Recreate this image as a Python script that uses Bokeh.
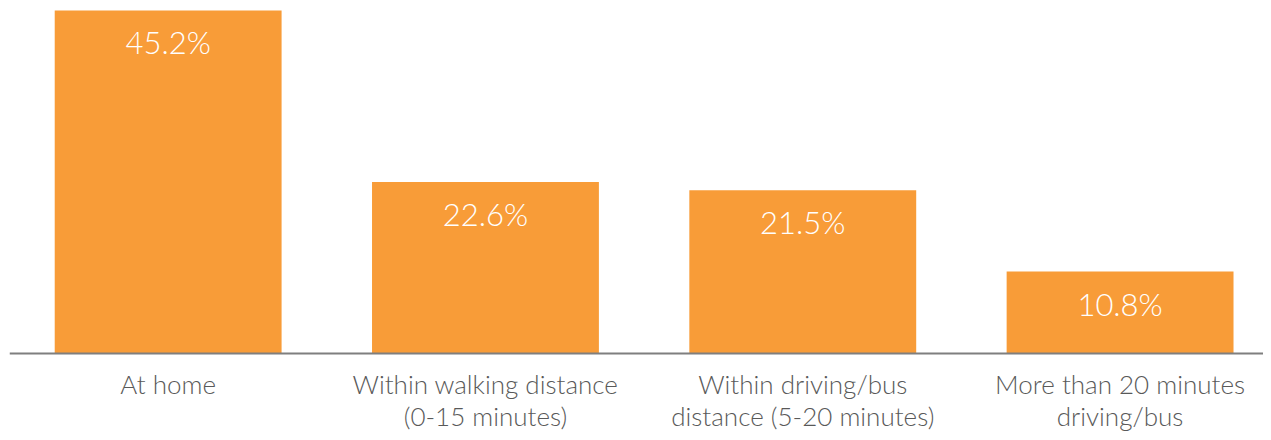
from bokeh.plotting import figure
from bokeh.models import ColumnDataSource, Range1d, Span
from bokeh.core.properties import value
from bokeh.embed import file_html
from bokeh.resources import INLINE

categories = ["At home", "Within walking distance\n(0-15 minutes)",
              "Within driving/bus\ndistance (5-20 minutes)", "More than 20 minutes\ndriving/bus"]
values = [45.2, 22.6, 21.5, 10.8]
labels = ["45.2%", "22.6%", "21.5%", "10.8%"]

xs = [i + 0.5 for i in range(len(categories))]
src = ColumnDataSource(dict(x=xs, top=values, lab=labels, cat=categories, zero=[0] * len(xs)))

p = figure(width=1263, height=432, output_backend="svg", toolbar_location=None,
           x_range=Range1d(0.0, 3.952), y_range=Range1d(-10.41, 46.51),
           min_border=0, min_border_left=9, min_border_right=0, min_border_top=0, min_border_bottom=0)
p.xaxis.visible = False
p.yaxis.visible = False
p.xgrid.visible = False
p.ygrid.visible = False
p.outline_line_color = None
p.background_fill_color = "white"

p.vbar(x="x", top="top", bottom=0, width=0.715, source=src, fill_color="#F89C38", line_color=None)
p.add_layout(Span(location=0, dimension="width", line_color="#7f7f7f", line_width=2))

p.text(x="x", y="top", text="lab", source=src, text_color="white",
       text_font=value("Lato Light"), text_font_size="31px", text_align="center",
       text_baseline="middle", y_offset=32)

p.text(x="x", y="zero", text="cat", source=src, text_color="#595959",
       text_font=value("Lato Light"), text_font_size="26px", text_align="center",
       text_baseline="top", y_offset=15, text_line_height=1.0)

open("out.html", "w").write(file_html(p, INLINE))
